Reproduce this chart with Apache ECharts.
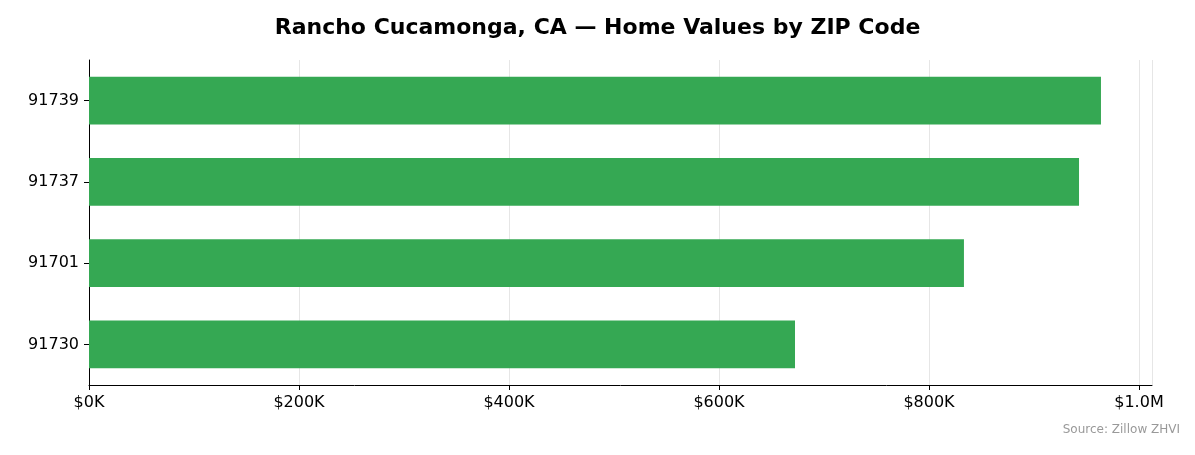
<!DOCTYPE html>
<html lang="en">
<head>
    <meta charset="UTF-8">
    <title>Rancho Cucamonga Home Values</title>
    <script src="https://cdn.jsdelivr.net/npm/echarts@6.0.0/dist/echarts.min.js"></script>
</head>
<body style="margin:0">
    <div id="main" style="width:1195px;height:455px;"></div>
    <script type="text/javascript">
        // ZIP codes, bottom to top
        const zips = ['91730', '91701', '91737', '91739'];
        const values = [672400, 833300, 942900, 963800];
        const tickValues = [0, 200000, 400000, 600000, 800000, 1000000];

        let myChart = echarts.init(document.getElementById('main'));

        let options = {
            animation: false,
            textStyle: { fontFamily: 'DejaVu Sans' },
            title: {
                text: 'Rancho Cucamonga, CA — Home Values by ZIP Code',
                left: 'center', top: 12,
                textStyle: { fontSize: 22, fontWeight: 'bold', color: '#000' }
            },
            graphic: [{
                type: 'text', right: 15, top: 424,
                style: { text: 'Source: Zillow ZHVI', fill: '#999', fontSize: 12, fontFamily: 'DejaVu Sans' }
            }],
            grid: { left: 89, right: 43, top: 60, bottom: 70 },
            xAxis: {
                type: 'value', min: 0, max: 1012400, interval: 200000,
                axisLine: { show: true, lineStyle: { color: '#000' } },
                axisTick: { show: true, length: 5, lineStyle: { color: '#000' } },
                splitLine: { show: true, lineStyle: { color: '#e6e6e6' } },
                axisLabel: {
                    fontSize: 16, color: '#000', margin: 10,
                    showMaxLabel: false,
                    formatter: v => tickValues.includes(v)
                        ? (v >= 1000000 ? '$' + (v / 1000000).toFixed(1) + 'M' : '$' + (v / 1000) + 'K')
                        : ''
                }
            },
            yAxis: {
                type: 'category', data: zips,
                axisLine: { show: true, lineStyle: { color: '#000' } },
                axisTick: { show: true, alignWithLabel: true, length: 5, lineStyle: { color: '#000' } },
                axisLabel: { fontSize: 16, color: '#000', margin: 10 }
            },
            series: [{
                type: 'bar', data: values, barWidth: '59%',
                itemStyle: { color: '#35a853' }
            }]
        };
        myChart.setOption(options);
    </script>
</body>
</html>
